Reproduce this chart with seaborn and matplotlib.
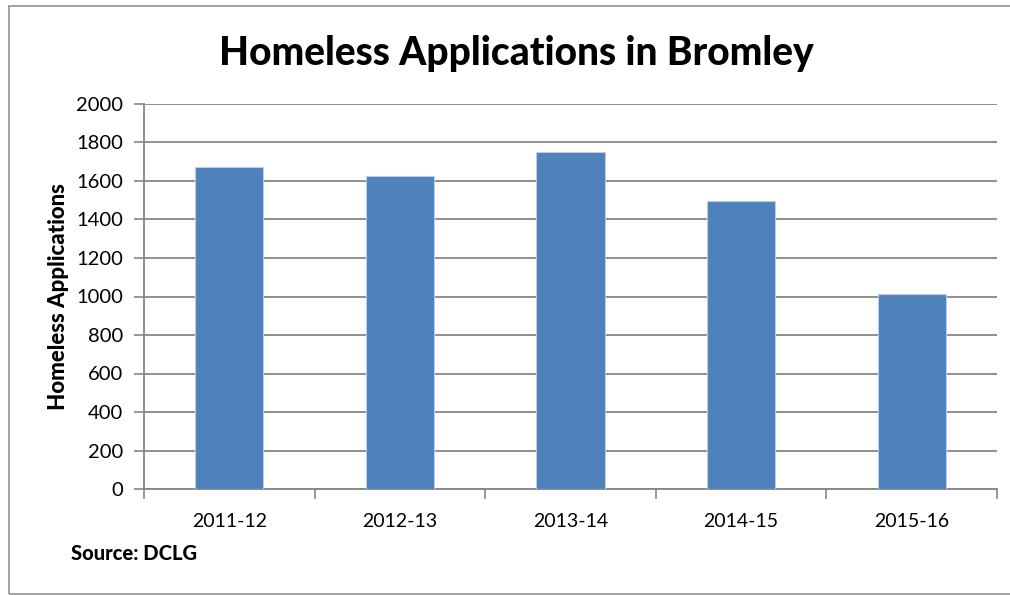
import matplotlib.pyplot as plt
import seaborn as sns
import pandas as pd
from matplotlib.patches import Rectangle

# ---------------------------------------------------
# Data
# ---------------------------------------------------

years = ["2011-12", "2012-13", "2013-14", "2014-15", "2015-16"]
applications = [1675, 1625, 1750, 1494, 1014]
y_ticks = [0, 200, 400, 600, 800, 1000, 1200, 1400, 1600, 1800, 2000]

BAR_BLUE = "#4f81bd"
GRID_GREY = "#868686"

sns.set_theme(style="white")
plt.rcParams["font.family"] = ["Lato", "DejaVu Sans"]
plt.rcParams["text.color"] = "black"

df = pd.DataFrame({"year": years, "applications": applications})

fig = plt.figure(figsize=(10.1, 5.95), dpi=100)
ax = fig.add_axes([144 / 1010, 1 - 489 / 595, (997 - 144) / 1010, (489 - 104) / 595])

sns.barplot(
    data=df,
    x="year",
    y="applications",
    color=BAR_BLUE,
    saturation=1,
    width=0.4,
    edgecolor="#b9cde5",
    linewidth=0.8,
    ax=ax,
    zorder=3
)

ax.set_ylim(0, 2000)
ax.set_xlim(-0.5, len(years) - 0.5)
ax.set_yticks(y_ticks)
ax.set_yticklabels([str(t) for t in y_ticks], fontsize=14.5, color="black")
ax.set_xticks(range(len(years)))
ax.set_xticklabels(years, fontsize=14, color="black")
ax.tick_params(axis="x", length=0, pad=17)
ax.tick_params(axis="y", length=7, color=GRID_GREY, width=1.2, left=True, pad=8)

# category boundary ticks on the x axis
ax.set_xticks([i - 0.5 for i in range(len(years) + 1)], minor=True)
ax.tick_params(axis="x", which="minor", length=7, color=GRID_GREY, width=1.2, bottom=True)

ax.yaxis.grid(True, color=GRID_GREY, linewidth=1.3, zorder=0)
ax.set_axisbelow(True)
for side in ["top", "right"]:
    ax.spines[side].set_visible(False)
for side in ["left", "bottom"]:
    ax.spines[side].set_color(GRID_GREY)
    ax.spines[side].set_linewidth(1.3)

ax.set_xlabel("")
ax.set_ylabel("Homeless Applications", fontsize=16, weight="black",
              color="black", labelpad=5)

fig.text(516 / 1010, 1 - 54 / 595, "Homeless Applications in Bromley",
         ha="center", va="center", fontsize=28, weight="black", color="black")
fig.text(71 / 1010, 1 - 553 / 595, "Source: DCLG",
         ha="left", va="center", fontsize=14.5, weight="black", color="black")

# chart frame
fig.patches.append(Rectangle((9 / 1010, 1 - 594 / 595), 1.05, (594 - 6) / 595,
                             transform=fig.transFigure, fill=False,
                             edgecolor="#9a9a9a", linewidth=1.3, clip_on=False))

fig.savefig("out.png", dpi=100)
plt.close(fig)
